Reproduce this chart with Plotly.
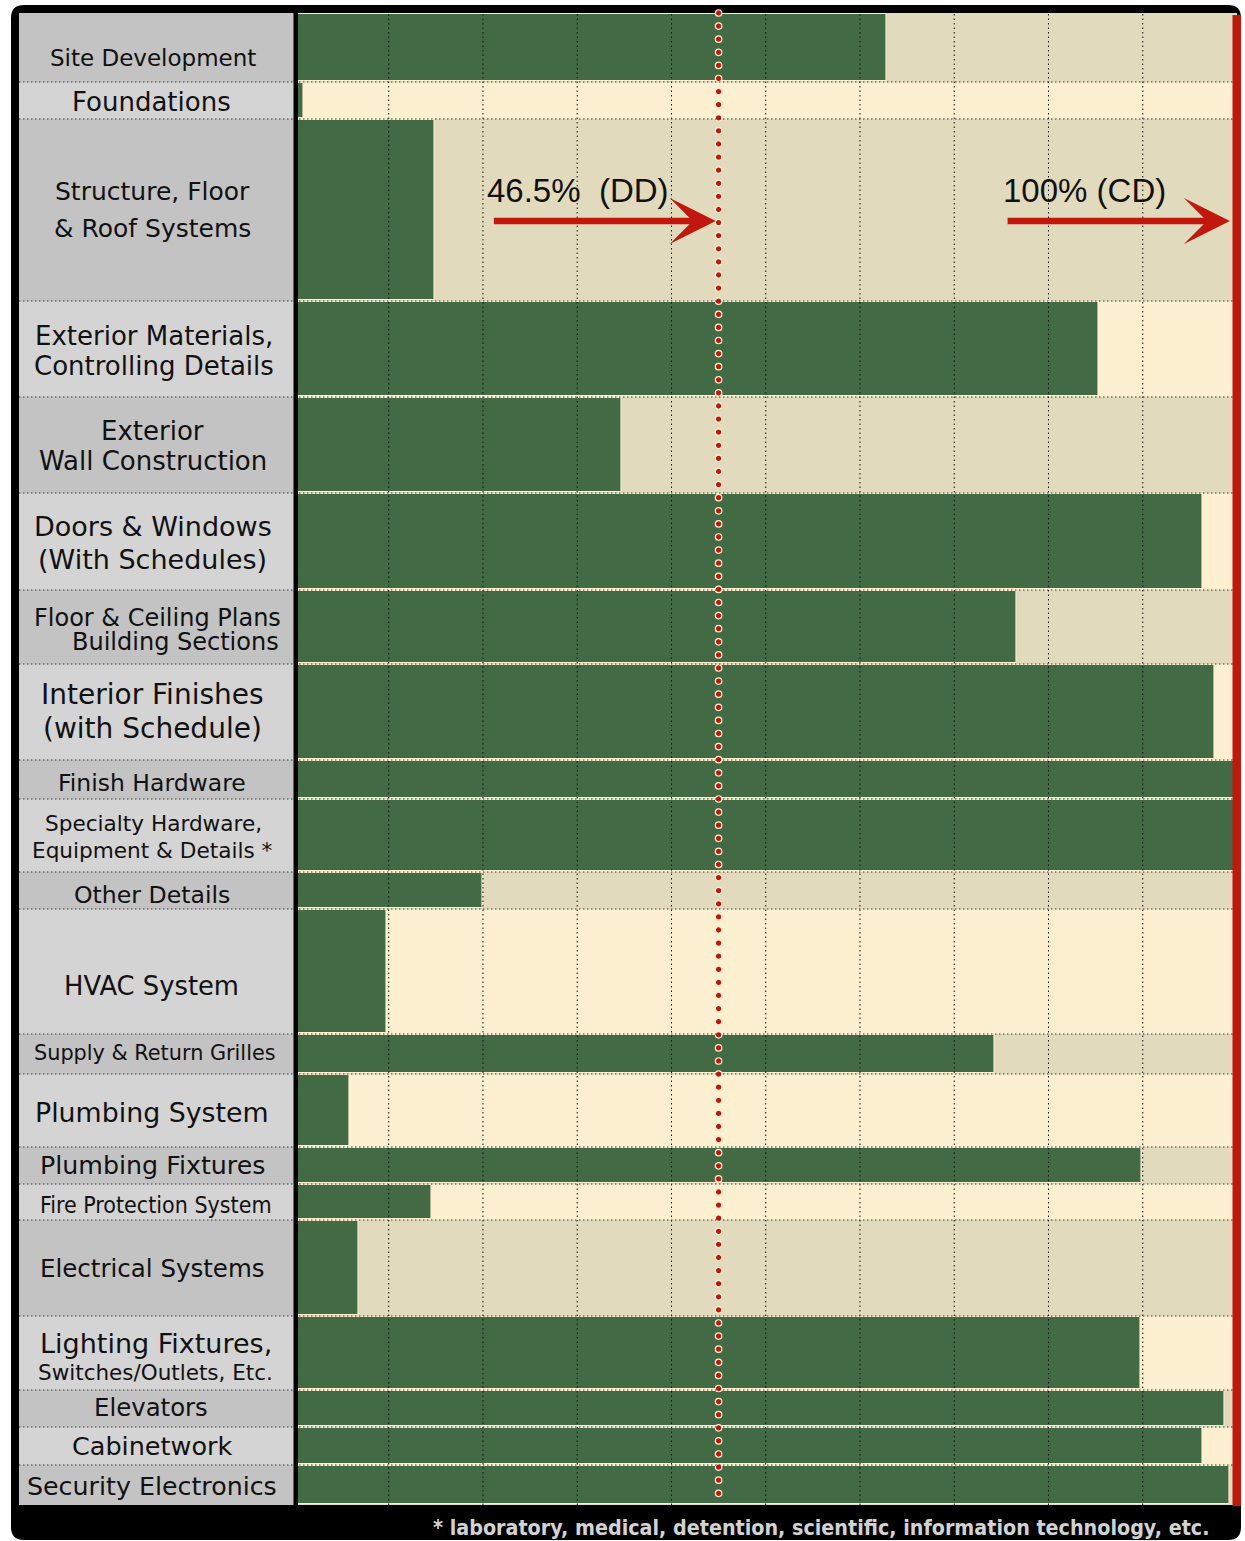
import numpy as np
import plotly.graph_objects as go

# ---------------- data ----------------
categories = [
    "Site Development",
    "Foundations",
    "Structure, Floor\n& Roof Systems",
    "Exterior Materials,\nControlling Details",
    "Exterior\nWall Construction",
    "Doors & Windows\n(With Schedules)",
    "Floor & Ceiling Plans\nBuilding Sections",
    "Interior Finishes\n(with Schedule)",
    "Finish Hardware",
    "Specialty Hardware,\nEquipment & Details *",
    "Other Details",
    "HVAC System",
    "Supply & Return Grilles",
    "Plumbing System",
    "Plumbing Fixtures",
    "Fire Protection System",
    "Electrical Systems",
    "Lighting Fixtures,\nSwitches/Outlets, Etc.",
    "Elevators",
    "Cabinetwork",
    "Security Electronics",
]
completion_pct = [62.8, 1.0, 14.9, 85.3, 34.7, 96.3, 76.6, 97.6, 100.0, 100.0,
                  19.9, 9.8, 74.3, 5.8, 89.9, 14.5, 6.8, 89.8, 98.7, 96.3, 99.2]
dd_position = 45.0
cd_position = 100.0
dd_label = "46.5%\u00a0 (DD)"
cd_label = "100% (CD)"
footnote = "* laboratory, medical, detention, scientific, information technology, etc."

# ---------------- layout / style ----------------
W, H = 1245, 1541
row_heights = [69, 37, 182, 96, 96, 97, 74, 96, 39, 73, 37, 125, 40, 73, 37, 36, 96, 74, 37, 38, 40]
# per line: (x centre px, vertical offset px from row centre, font size)
label_style = [
    [(152.5, 10, 23)],
    [(151.5, 1, 26)],
    [(152.5, -19, 25), (152.5, 18, 25)],
    [(154, -13, 26), (154, 17, 26)],
    [(152.5, -14, 26), (152.5, 16, 26)],
    [(152.5, -15.5, 27), (152, 17.5, 27)],
    [(157.5, -9.5, 24), (175, 14.5, 24)],
    [(152, -18, 28), (152.5, 16, 28)],
    [(152, 3.5, 23.5)],
    [(153, -12.5, 21.6), (152.5, 14.5, 21.6)],
    [(152, 4.5, 23.6)],
    [(151.5, 14.5, 25.8)],
    [(154.5, -1, 20.8)],
    [(152, 1.5, 26.8)],
    [(152, 0, 25.3)],
    [(155.5, 3, 23)],
    [(152.5, 0, 24.5)],
    [(155.5, -10, 27), (155.5, 19, 21.5)],
    [(151, -1.5, 24.4)],
    [(152, 0, 25.5)],
    [(152, 1, 25.3)],
]
condensed_rows = {15}

GREEN = "#416a45"
BEIGE = "#e2dabc"
CREAM = "#fdf0d0"
GREY_D = "#c3c3c3"
GREY_L = "#d4d4d4"
RED = "#c2170c"

FONT = "DejaVu Sans, Verdana, sans-serif"
CFONT = "DejaVu Sans Condensed, DejaVu Sans, sans-serif"

bounds = np.concatenate([[0], np.cumsum(row_heights)])
centers = (bounds[:-1] + bounds[1:]) / 2
total = bounds[-1]

top_px, bot_px = 13, 1505
x0_px, x100_px = 294.45, 1237.0
lab_l_px = 19


def fx(p):
    return p / W


def fy(p):
    return 1 - p / H


fig = go.Figure()

# bars
fig.add_trace(go.Bar(
    x=completion_pct, y=centers, orientation="h",
    width=[h - 2 for h in row_heights],
    marker=dict(color=GREEN, line=dict(color=CREAM, width=1)),
    xaxis="x", yaxis="y", hoverinfo="skip",
))
# dummy trace for label column subplot
fig.add_trace(go.Scatter(x=[lab_l_px], y=[0], mode="markers", marker=dict(size=0.1, opacity=0),
                         xaxis="x2", yaxis="y", hoverinfo="skip"))
# red dotted DD line
dot_y = np.arange(0.0, total + 0.5, 13.1)
fig.add_trace(go.Scatter(
    x=[dd_position] * len(dot_y), y=dot_y, mode="markers",
    marker=dict(size=6.5, color=RED, line=dict(color=CREAM, width=1.2)),
    cliponaxis=False, xaxis="x", yaxis="y", hoverinfo="skip",
))

shapes = []
# outer black frame (rounded)
x0, y0, x1, y1, r = 11, 5, 1241, 1540, 13
path = (f"M {fx(x0 + r)},{fy(y0)} L {fx(x1 - r)},{fy(y0)} Q {fx(x1)},{fy(y0)} {fx(x1)},{fy(y0 + r)} "
        f"L {fx(x1)},{fy(y1 - r)} Q {fx(x1)},{fy(y1)} {fx(x1 - r)},{fy(y1)} "
        f"L {fx(x0 + r)},{fy(y1)} Q {fx(x0)},{fy(y1)} {fx(x0)},{fy(y1 - r)} "
        f"L {fx(x0)},{fy(y0 + r)} Q {fx(x0)},{fy(y0)} {fx(x0 + r)},{fy(y0)} Z")
shapes.append(dict(type="path", path=path, xref="paper", yref="paper",
                   fillcolor="black", line=dict(width=0), layer="below"))

# row backgrounds
for i in range(len(row_heights)):
    shapes.append(dict(type="rect", xref="x2", yref="y", x0=lab_l_px, x1=x0_px,
                       y0=bounds[i], y1=bounds[i + 1],
                       fillcolor=GREY_D if i % 2 == 0 else GREY_L, line=dict(width=0), layer="below"))
    shapes.append(dict(type="rect", xref="x", yref="y", x0=0, x1=100,
                       y0=bounds[i], y1=bounds[i + 1],
                       fillcolor=BEIGE if i % 2 == 0 else CREAM, line=dict(width=0), layer="below"))

# vertical dotted grid lines
for g in range(10, 100, 10):
    shapes.append(dict(type="line", xref="x", yref="paper", x0=g, x1=g, y0=fy(bot_px), y1=fy(top_px),
                       line=dict(color="#111", width=1, dash="1.5px,3px"), layer="above"))
# row separators
for b in bounds[1:-1]:
    shapes.append(dict(type="line", xref="paper", yref="y", x0=fx(lab_l_px), x1=fx(1233), y0=b, y1=b,
                       line=dict(color="#333", width=1, dash="1.5px,2.5px"), layer="above"))
# black separator between labels and plot
shapes.append(dict(type="rect", xref="paper", yref="paper", x0=fx(293.5), x1=fx(298),
                   y0=fy(bot_px + 1), y1=fy(top_px), fillcolor="black", line=dict(width=0), layer="above"))
# red right edge
shapes.append(dict(type="rect", xref="paper", yref="paper", x0=fx(1232.5), x1=fx(1241),
                   y0=fy(bot_px + 1), y1=fy(15), fillcolor=RED, line=dict(width=0), layer="above"))

annotations = []
for i, cat in enumerate(categories):
    lines = cat.split("\n")
    for line, (cx, dy, size) in zip(lines, label_style[i]):
        annotations.append(dict(
            text=line, xref="x2", yref="y", x=cx, y=centers[i] + dy,
            xanchor="center", yanchor="middle", showarrow=False,
            font=dict(family=CFONT if i in condensed_rows else FONT, size=size, color="#111"),
        ))

# milestone arrows and labels
arrow_y = bounds[2] + 102
text_y = bounds[2] + 71
annotations.append(dict(x=dd_position - 0.3, y=arrow_y, ax=21.0, ay=arrow_y, xref="x", yref="y",
                        axref="x", ayref="y", text="", showarrow=True, arrowhead=3,
                        arrowsize=1.18, arrowwidth=6.5, arrowcolor=RED, standoff=0))
annotations.append(dict(x=cd_position - 0.75, y=arrow_y, ax=75.5, ay=arrow_y, xref="x", yref="y",
                        axref="x", ayref="y", text="", showarrow=True, arrowhead=3,
                        arrowsize=1.18, arrowwidth=6.5, arrowcolor=RED, standoff=0))
annotations.append(dict(text=dd_label, x=30.1, y=text_y, xref="x", yref="y", showarrow=False,
                        xanchor="center", yanchor="middle",
                        font=dict(family="Liberation Sans, Arial, sans-serif", size=33, color="#111")))
annotations.append(dict(text=cd_label, x=83.8, y=text_y, xref="x", yref="y", showarrow=False,
                        xanchor="center", yanchor="middle",
                        font=dict(family="Liberation Sans, Arial, sans-serif", size=33, color="#111")))
annotations.append(dict(text="<b>" + footnote + "</b>", x=fx(1211), y=fy(1527), xref="paper", yref="paper",
                        xanchor="right", yanchor="middle", showarrow=False,
                        font=dict(family=CFONT, size=21.3, color="#d2d2d2")))

fig.update_layout(
    width=W, height=H,
    margin=dict(l=0, r=0, t=0, b=0, pad=0),
    paper_bgcolor="white", plot_bgcolor="rgba(0,0,0,0)",
    showlegend=False, hovermode=False, bargap=0,
    xaxis=dict(domain=[fx(x0_px), fx(x100_px)], range=[0, 100], visible=False, fixedrange=True),
    xaxis2=dict(domain=[fx(lab_l_px), fx(x0_px)], range=[lab_l_px, x0_px], visible=False,
                anchor="y", fixedrange=True),
    yaxis=dict(domain=[fy(bot_px), fy(top_px)], range=[total, 0], visible=False, fixedrange=True),
    shapes=shapes, annotations=annotations,
)

fig.write_html("out.html", config={"displayModeBar": False},
               post_script="document.body.style.margin='0';document.body.style.overflow='hidden';")
